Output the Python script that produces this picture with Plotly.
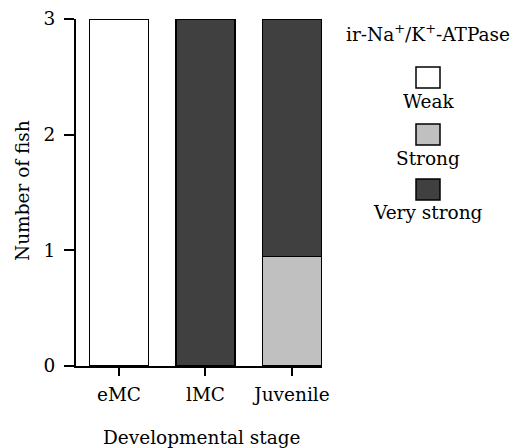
import plotly.graph_objects as go

stages = ["eMC", "lMC", "Juvenile"]
weak = [3, None, None]
strong = [None, None, 0.95]
very_strong = [None, 3, 2.05]
series_names = ["Weak", "Strong", "Very strong"]
series_colors = ["#ffffff", "#c0c0c0", "#404040"]
y_ticks = [0, 1, 2, 3]
x_title = "Developmental stage"
y_title = "Number of fish"
legend_title = "ir-Na<sup>+</sup>/K<sup>+</sup>-ATPase"

W, H = 523, 448
L, R, T, B = 76, 322, 19, 366
FONT = "DejaVu Serif"
FS = 18.5

fig = go.Figure()
for name, vals, col in zip(series_names, [weak, strong, very_strong], series_colors):
    fig.add_trace(go.Bar(x=list(range(len(stages))), y=vals, name=name,
                         marker=dict(color=col, line=dict(color="#000000", width=1.2)),
                         width=0.68, showlegend=False))

def px(x):
    return (x - L) / (R - L)

def py(y):
    return (B - y) / (B - T)

shapes = []
annotations = []
cx = 428
annotations.append(dict(x=px(cx), y=py(47), xref="paper", yref="paper",
                        text=legend_title, showarrow=False,
                        font=dict(family=FONT, size=FS, color="#000"),
                        xanchor="center", yanchor="bottom"))
box_tops = [67, 124, 179]
label_y = [101, 158, 212]
for name, col, bt, ly in zip(series_names, series_colors, box_tops, label_y):
    shapes.append(dict(type="rect", xref="paper", yref="paper",
                       x0=px(cx - 12), x1=px(cx + 12), y0=py(bt), y1=py(bt + 21),
                       fillcolor=col, line=dict(color="#000", width=1.5)))
    annotations.append(dict(x=px(cx), y=py(ly), xref="paper", yref="paper",
                            text=name, showarrow=False,
                            font=dict(family=FONT, size=FS, color="#000"),
                            xanchor="center", yanchor="middle"))

# axis titles
annotations.append(dict(x=px(202), y=py(437), xref="paper", yref="paper",
                        text=x_title, showarrow=False,
                        font=dict(family=FONT, size=FS, color="#000"),
                        xanchor="center", yanchor="middle"))
annotations.append(dict(x=px(22), y=py(191), xref="paper", yref="paper",
                        text=y_title, showarrow=False, textangle=-90,
                        font=dict(family=FONT, size=FS, color="#000"),
                        xanchor="center", yanchor="middle"))

fig.update_layout(
    width=W, height=H,
    margin=dict(l=L, r=W - R, t=T, b=H - B, pad=0, autoexpand=False),
    barmode="stack",
    plot_bgcolor="#ffffff", paper_bgcolor="#ffffff",
    font=dict(family=FONT, size=FS, color="#000000"),
    shapes=shapes, annotations=annotations,
    xaxis=dict(range=[-0.497, 2.347], tickmode="array", tickvals=list(range(len(stages))),
               ticktext=stages, showline=True, linecolor="#000", linewidth=2,
               ticks="outside", ticklen=8, tickwidth=2, tickcolor="#000",
               ticklabelstandoff=3, automargin=False,
               showgrid=False, zeroline=False, tickfont=dict(family=FONT, size=FS)),
    yaxis=dict(range=[0, 3], tickvals=y_ticks, showline=True, linecolor="#000", linewidth=2,
               ticks="outside", ticklen=10, tickwidth=2, tickcolor="#000",
               ticklabelstandoff=5, automargin=False,
               showgrid=False, zeroline=False, tickfont=dict(family=FONT, size=FS)),
)

fig.write_html("out.html", config={"displayModeBar": False},
               post_script="document.body.style.margin='0';")
